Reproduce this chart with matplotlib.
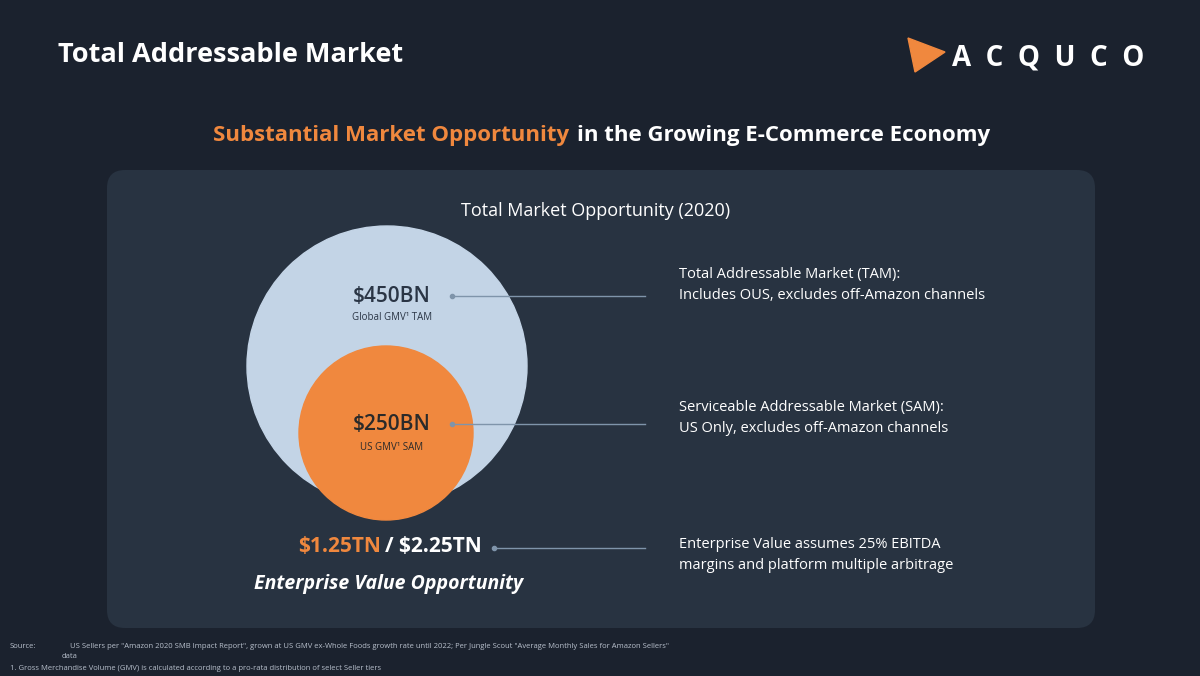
import matplotlib
matplotlib.use("Agg")
import matplotlib.pyplot as plt
from matplotlib.patches import Circle, FancyBboxPatch, Polygon

plt.rcParams['font.family'] = ['Open Sans', 'DejaVu Sans']

market_labels = ["$450BN", "$250BN"]
market_subs = ["Global GMV\u00b9 TAM", "US GMV\u00b9 SAM"]
descriptions = [
    "Total Addressable Market (TAM):\nIncludes OUS, excludes off-Amazon channels",
    "Serviceable Addressable Market (SAM):\nUS Only, excludes off-Amazon channels",
    "Enterprise Value assumes 25% EBITDA\nmargins and platform multiple arbitrage",
]
ev_low, ev_high = "$1.25TN", "$2.25TN"

BG = "#1b222e"
PANEL = "#283341"
ORANGE = "#f0883e"
LIGHT = "#c3d4e6"

fig = plt.figure(figsize=(12, 6.76), dpi=100)
fig.patch.set_facecolor(BG)
ax = fig.add_axes([0, 0, 1, 1])
ax.set_xlim(0, 1200); ax.set_ylim(676, 0); ax.axis("off")

ax.text(58, 55, "Total Addressable Market", color="white", fontsize=19.5, fontweight="bold", va="center")
ax.add_patch(Polygon([[908, 38], [945, 52], [915, 72]], closed=True, color=ORANGE))
ax.text(952, 58, "A  C  Q  U  C  O", color="white", fontsize=20, fontweight="bold", va="center")

ax.text(213, 135, "Substantial Market Opportunity", color=ORANGE, fontsize=16, fontweight="bold", va="center")
ax.text(577, 135, "in the Growing E-Commerce Economy", color="white", fontsize=16, fontweight="bold", va="center")

ax.add_patch(FancyBboxPatch((107, 170), 988, 458, boxstyle="round,pad=0,rounding_size=18",
                            facecolor=PANEL, edgecolor="none"))
ax.text(596, 211, "Total Market Opportunity (2020)", color="white", fontsize=13, ha="center", va="center")

ax.add_patch(Circle((387, 366), 140, color=LIGHT))
ax.add_patch(Circle((386, 433), 87, color=ORANGE))

ax.text(392, 297, market_labels[0], color="#2a3545", fontsize=15, fontweight="semibold", ha="center", va="center")
ax.text(392, 318, market_subs[0], color="#2a3545", fontsize=7, ha="center", va="center")
ax.text(392, 425, market_labels[1], color="#2a2a2a", fontsize=15, fontweight="semibold", ha="center", va="center")
ax.text(392, 447, market_subs[1], color="#2a2a2a", fontsize=7, ha="center", va="center")

line_c = "#7f94aa"
for y, x0 in [(296, 452), (424, 452), (548, 494)]:
    ax.plot([x0, 645], [y, y], color=line_c, lw=1)
    ax.plot([x0], [y], "o", color=line_c, ms=3)

ax.text(679, 285, descriptions[0], color="white", fontsize=10.5, va="center", linespacing=1.5)
ax.text(679, 418, descriptions[1], color="white", fontsize=10.5, va="center", linespacing=1.5)
ax.text(679, 555, descriptions[2], color="white", fontsize=10.5, va="center", linespacing=1.5)

ax.text(298, 547, ev_low, color=ORANGE, fontsize=15, fontweight="bold", va="center")
ax.text(385, 547, "/ " + ev_high, color="white", fontsize=15, fontweight="bold", va="center")
ax.text(389, 584, "Enterprise Value Opportunity", color="white", fontsize=14, fontweight="bold",
        style="italic", ha="center", va="center")

fc = "#b8c0cc"
ax.text(10, 646, "Source:", color=fc, fontsize=5.5, va="center")
ax.text(70, 646, "US Sellers per \"Amazon 2020 SMB Impact Report\", grown at US GMV ex-Whole Foods growth rate until 2022; Per Jungle Scout \"Average Monthly Sales for Amazon Sellers\"",
        color=fc, fontsize=5.5, va="center")
ax.text(62, 657, "data", color=fc, fontsize=5.5, va="center")
ax.text(10, 668, "1. Gross Merchandise Volume (GMV) is calculated according to a pro-rata distribution of select Seller tiers",
        color=fc, fontsize=5.5, va="center")

fig.savefig("out.png", dpi=100, facecolor=BG)
